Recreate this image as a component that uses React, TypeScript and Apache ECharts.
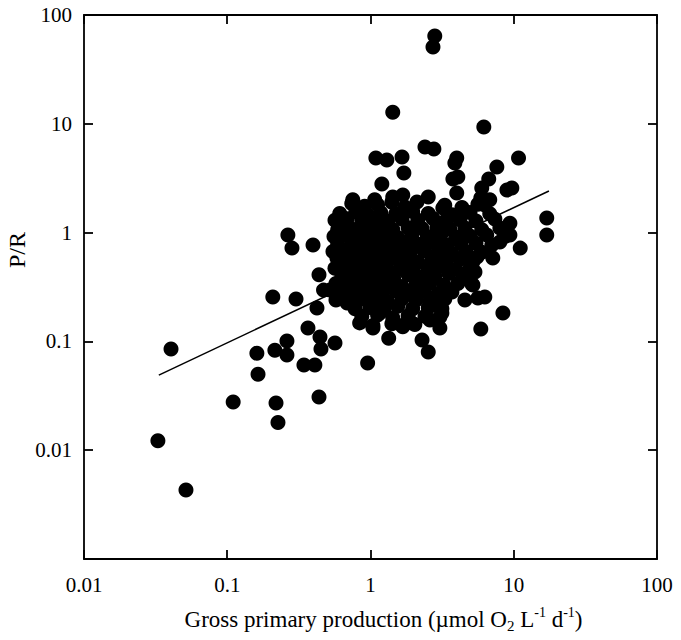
import React, { useEffect, useRef } from 'react';
import * as echarts from 'echarts';

const xTickLabels = ['0.01', '0.1', '1', '10', '100'];
const yTickLabels = ['', '0.01', '0.1', '1', '10', '100'];
const yTitle = 'P/R';
const xTitleRich = '{a|Gross primary production (µmol O}{sub|2}{a| L}{sup|-1}{a| d}{sup|-1}{a|)}';

// [gross primary production, P/R]
const outerPoints: [number, number][] = [
  [2.81, 64.1], [2.73, 50.8], [1.43, 12.8], [6.18, 9.35], [2.40, 6.12], [2.77, 5.86], [1.09, 4.85], [1.30, 4.65],
  [1.66, 4.95], [4.00, 4.85], [3.88, 4.36], [10.8, 4.85], [7.62, 4.01], [1.71, 3.53], [3.76, 3.11], [4.07, 3.24],
  [4.00, 2.31], [6.69, 3.11], [5.98, 2.57], [5.89, 2.08], [8.96, 2.46], [9.7, 2.57], [1.20, 2.80], [1.07, 2.0],
  [1.43, 2.12], [1.68, 2.22], [2.53, 2.12], [2.11, 1.91], [3.20, 1.68], [4.42, 1.61], [6.28, 1.79], [6.8, 2.0],
  [0.752, 2.0],
  [17.0, 1.36], [17.0, 0.95], [11.1, 0.72], [9.4, 1.22], [9.4, 0.95], [8.0, 0.82], [7.14, 0.585], [5.54, 0.597],
  [5.36, 0.435], [5.19, 0.33], [5.62, 0.25], [6.28, 0.256], [8.40, 0.182], [5.89, 0.13], [3.15, 0.182], [3.05, 0.133],
  [2.60, 0.157], [2.69, 0.216], [2.29, 0.103], [2.53, 0.080], [1.94, 0.148], [1.68, 0.136], [1.34, 0.107], [1.04, 0.133],
  [0.955, 0.0632],
  [0.265, 0.95], [0.283, 0.72], [0.397, 0.77], [0.59, 1.06], [0.583, 0.585], [0.437, 0.41], [0.208, 0.256], [0.302, 0.245],
  [0.423, 0.203], [0.52, 0.296], [0.366, 0.133], [0.444, 0.11], [0.565, 0.0966], [0.261, 0.101], [0.261, 0.075], [0.451, 0.0851],
  [0.215, 0.083], [0.343, 0.0606], [0.409, 0.0606], [0.437, 0.0308], [0.161, 0.078], [0.164, 0.050], [0.110, 0.0277], [0.219, 0.0272],
  [0.226, 0.018], [0.0405, 0.0851], [0.0328, 0.0122], [0.0515, 0.0043], [0.84, 0.148], [1.16, 0.182], [0.687, 0.225], [0.47, 0.296],
];

const clusterPoints: [number, number][] = [
  [0.74, 1.85], [0.91, 1.75], [1.12, 1.8], [1.41, 1.9], [1.74, 1.72], [3.30, 1.78], [4.35, 1.7], [5.62, 1.82],
  [0.61, 1.5], [0.79, 1.55], [0.955, 1.45], [1.18, 1.52], [1.50, 1.48], [1.97, 1.56], [2.53, 1.5], [3.70, 1.46], [4.95, 1.53], [6.8, 1.49],
  [0.565, 1.3], [0.687, 1.34], [0.87, 1.28], [1.07, 1.32], [1.32, 1.27], [1.66, 1.33], [2.14, 1.3], [2.73, 1.35], [3.36, 1.29], [4.21, 1.31], [5.45, 1.28], [7.38, 1.33],
  [0.61, 1.12], [0.74, 1.08], [0.925, 1.1], [1.16, 1.13], [1.43, 1.07], [1.83, 1.11], [2.29, 1.09], [2.91, 1.12], [3.58, 1.08], [4.56, 1.1], [5.98, 1.06], [8.0, 1.1],
  [0.556, 0.92], [0.676, 0.95], [0.815, 0.91], [1.02, 0.94], [1.28, 0.93], [1.55, 0.9], [1.94, 0.95], [2.49, 0.92], [3.10, 0.96], [3.94, 0.91], [4.95, 0.93], [6.48, 0.95], [8.67, 0.92],
  [0.59, 0.78], [0.74, 0.8], [0.91, 0.77], [1.12, 0.79], [1.39, 0.76], [1.74, 0.8], [2.18, 0.78], [2.73, 0.81], [3.41, 0.77], [4.28, 0.79], [5.45, 0.8], [7.03, 0.77],
  [0.547, 0.67], [0.66, 0.65], [0.815, 0.68], [1.00, 0.66], [1.24, 0.64], [1.53, 0.67], [1.88, 0.65], [2.37, 0.68], [2.96, 0.66], [3.70, 0.64], [4.63, 0.67], [5.98, 0.66],
  [0.61, 0.56], [0.752, 0.55], [0.925, 0.57], [1.14, 0.55], [1.41, 0.58], [1.74, 0.56], [2.14, 0.54], [2.69, 0.57], [3.36, 0.55], [4.21, 0.57], [5.19, 0.54],
  [0.565, 0.47], [0.698, 0.48], [0.855, 0.46], [1.05, 0.49], [1.30, 0.47], [1.60, 0.46], [2.00, 0.48], [2.53, 0.47], [3.15, 0.49], [3.94, 0.46], [4.95, 0.47],
  [0.632, 0.4], [0.78, 0.39], [0.955, 0.41], [1.18, 0.4], [1.45, 0.38], [1.83, 0.41], [2.25, 0.39], [2.81, 0.4], [3.52, 0.42], [4.42, 0.39],
  [0.574, 0.34], [0.72, 0.33], [0.88, 0.345], [1.09, 0.33], [1.34, 0.34], [1.66, 0.32], [2.08, 0.335], [2.60, 0.345], [3.25, 0.33], [4.07, 0.34], [5.11, 0.335],
  [0.642, 0.28], [0.80, 0.29], [0.99, 0.275], [1.22, 0.285], [1.50, 0.29], [1.88, 0.28], [2.37, 0.29], [2.96, 0.275], [3.70, 0.285],
  [0.574, 0.24], [0.709, 0.235], [0.87, 0.245], [1.07, 0.24], [1.32, 0.23], [1.66, 0.245], [2.08, 0.24], [2.60, 0.235], [3.30, 0.245], [4.56, 0.24],
  [0.78, 0.2], [0.99, 0.205], [1.24, 0.2], [1.55, 0.21], [1.97, 0.2], [2.53, 0.205], [3.15, 0.2],
  [0.87, 0.17], [1.12, 0.175], [1.43, 0.165], [1.83, 0.172], [2.40, 0.17], [3.05, 0.168],
  [1.04, 0.14], [1.41, 0.145], [1.66, 0.14], [2.04, 0.143],
];

const regressionLine: [number, number][] = [[0.0333, 0.049], [17.6, 2.41]];

const FONT = 'Liberation Serif';

export default function App() {
  const ref = useRef<HTMLDivElement>(null);
  useEffect(() => {
    if (!ref.current) return;
    const chart = echarts.init(ref.current, null, { renderer: 'svg' });
    const fmt = (labels: string[], offset: number) => (v: number) =>
      labels[Math.round(Math.log10(v)) + offset] ?? '';
    const axisLine = { show: true, onZero: false, lineStyle: { color: '#000', width: 1.8 } };
    const axisTick = { show: true, inside: true, length: 9, lineStyle: { color: '#000', width: 1.8 } };
    const labelBase = { fontFamily: FONT, fontSize: 21, color: '#000', showMinLabel: true, showMaxLabel: true };
    chart.setOption({
      animation: false,
      backgroundColor: '#fff',
      textStyle: { fontFamily: FONT },
      grid: { left: 84, right: 24, top: 15, bottom: 81, containLabel: false },
      xAxis: [
        {
          type: 'log', logBase: 10, min: 0.01, max: 100, position: 'bottom',
          axisLine, axisTick, splitLine: { show: false },
          axisLabel: { ...labelBase, margin: 15, formatter: fmt(xTickLabels, 2) },
          name: xTitleRich, nameLocation: 'middle', nameGap: 46,
          nameTextStyle: {
            fontFamily: FONT, fontSize: 23, color: '#000', padding: [0, 0, 0, 26],
            rich: {
              a: { fontFamily: FONT, fontSize: 23, lineHeight: 28, color: '#000' },
              sub: { fontFamily: FONT, fontSize: 15, lineHeight: 15, verticalAlign: 'bottom', color: '#000' },
              sup: { fontFamily: FONT, fontSize: 14, lineHeight: 14, verticalAlign: 'top', color: '#000' },
            },
          },
        },
        {
          type: 'log', logBase: 10, min: 0.01, max: 100, position: 'top',
          axisLine, axisTick, splitLine: { show: false }, axisLabel: { show: false },
        },
      ],
      yAxis: [
        {
          type: 'log', logBase: 10, min: 0.001, max: 100, position: 'left',
          axisLine, axisTick, splitLine: { show: false },
          axisLabel: { ...labelBase, margin: 12, formatter: fmt(yTickLabels, 3) },
        },
        {
          type: 'log', logBase: 10, min: 0.001, max: 100, position: 'right',
          axisLine, axisTick, splitLine: { show: false }, axisLabel: { show: false },
        },
      ],
      graphic: [
        {
          type: 'text', x: 17, y: 250, rotation: Math.PI / 2,
          style: { text: yTitle, fontFamily: FONT, fontSize: 24, fill: '#000', align: 'center', verticalAlign: 'middle' },
        },
      ],
      series: [
        {
          type: 'scatter', xAxisIndex: 0, yAxisIndex: 0, symbol: 'circle', symbolSize: 15,
          itemStyle: { color: '#000', opacity: 1 },
          data: [...outerPoints, ...clusterPoints],
        },
        {
          type: 'line', xAxisIndex: 0, yAxisIndex: 0, showSymbol: false, symbol: 'none',
          lineStyle: { color: '#000', width: 1.5 },
          data: regressionLine,
        },
      ],
    });
    return () => chart.dispose();
  }, []);
  return (
    <div
      ref={ref}
      style={{ position: 'fixed', left: 0, top: 0, width: 681, height: 640, background: '#fff' }}
    />
  );
}
